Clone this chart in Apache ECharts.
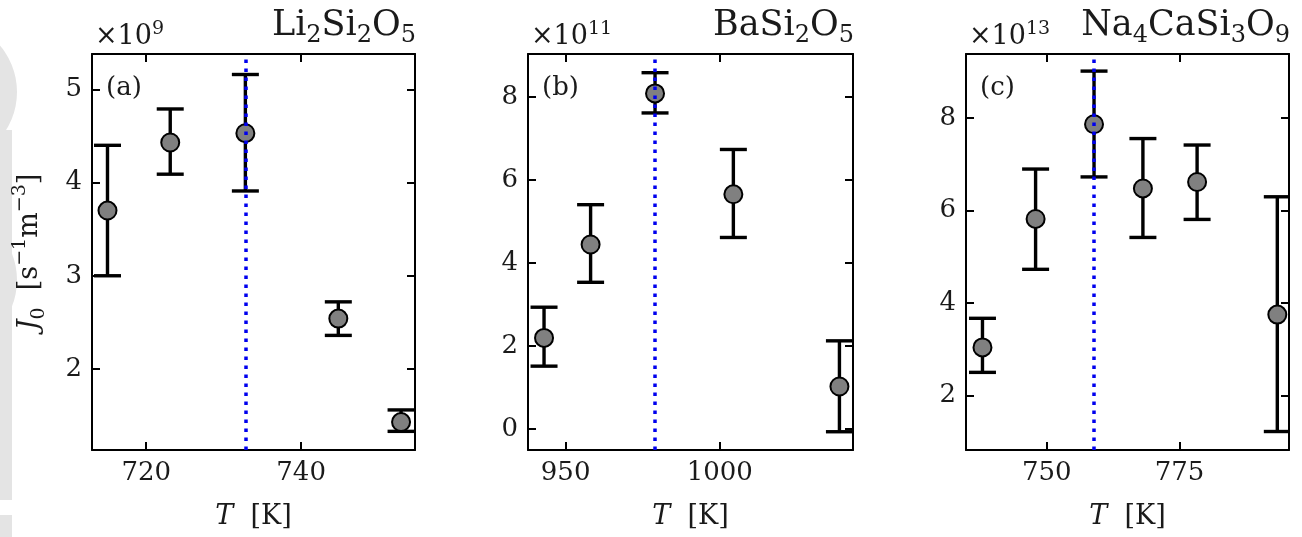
<!DOCTYPE html>
<html><head><meta charset="utf-8">
<script src="https://cdn.jsdelivr.net/npm/echarts@6/dist/echarts.min.js"></script>
<style>html,body{margin:0;padding:0;background:#fff}#c{width:1302px;height:537px}</style>
</head><body><div id="c"></div>
<script>
// ---- data (J0 in units of the panel's offset factor) ----
const T_a  = [715.0, 723.1, 732.8, 744.8, 752.9];
const J_a  = [3.70, 4.43, 4.53, 2.54, 1.43];
const lo_a = [3.00, 4.09, 3.91, 2.36, 1.33];
const hi_a = [4.40, 4.79, 5.16, 2.72, 1.56];
const Tmark_a = 732.9;

const T_b  = [943.0, 958.1, 979.0, 1004.4, 1038.8];
const J_b  = [2.19, 4.44, 8.08, 5.65, 1.02];
const lo_b = [1.51, 3.53, 7.61, 4.61, -0.07];
const hi_b = [2.93, 5.40, 8.58, 6.73, 2.12];
const Tmark_b = 979.0;

const T_c  = [737.9, 747.9, 758.9, 768.1, 778.3, 793.4];
const J_c  = [3.04, 5.82, 7.87, 6.48, 6.62, 3.75];
const lo_c = [2.50, 4.73, 6.73, 5.42, 5.81, 1.22];
const hi_c = [3.67, 6.90, 9.02, 7.56, 7.42, 6.30];
const Tmark_c = 758.9;

const xTicks_a = [720, 740];
const xTicks_b = [950, 1000];
const xTicks_c = [750, 775];
const yTicks_a = [2, 3, 4, 5];
const yTicks_b = [0, 2, 4, 6, 8];
const yTicks_c = [2, 4, 6, 8];

const xRange_a = [713.0, 754.7];
const xRange_b = [937.8, 1043.2];
const xRange_c = [734.8, 795.6];
const yRange_a = [1.13, 5.38];
const yRange_b = [-0.51, 9.03];
const yRange_c = [0.82, 9.39];

const compounds = ['{m|Li}{s|2}{m|Si}{s|2}{m|O}{s|5}',
                   '{m|BaSi}{s|2}{m|O}{s|5}',
                   '{m|Na}{s|4}{m|CaSi}{s|3}{m|O}{s|9}'];
const exponents = ['9', '11', '13'];
const panelTags = ['(a)', '(b)', '(c)'];

// ---- layout ----
const FONT = 'DejaVu Serif';
const INK = '#1a1a1a';
const grids = [
  {left: 92, top: 54, width: 323, height: 396},
  {left: 528, top: 54, width: 325, height: 396},
  {left: 966, top: 54, width: 323, height: 396}
];

const panels = [
  {T: T_a, J: J_a, lo: lo_a, hi: hi_a, mark: Tmark_a, xt: xTicks_a, yt: yTicks_a, xr: xRange_a, yr: yRange_a},
  {T: T_b, J: J_b, lo: lo_b, hi: hi_b, mark: Tmark_b, xt: xTicks_b, yt: yTicks_b, xr: xRange_b, yr: yRange_b},
  {T: T_c, J: J_c, lo: lo_c, hi: hi_c, mark: Tmark_c, xt: xTicks_c, yt: yTicks_c, xr: xRange_c, yr: yRange_c}
];

const axisLine = {show: true, onZero: false, lineStyle: {color: '#000', width: 2}};
function tickCfg(vals) {
  return {show: true, inside: true, length: 8, customValues: vals, lineStyle: {color: '#000', width: 2}};
}
const labelStyle = {fontFamily: FONT, fontSize: 26, color: INK, formatter: v => String(v)};
const plain = {fontFamily: FONT, color: INK, fontWeight: 'normal'};

const xAxes = [], yAxes = [], series = [], titles = [];
panels.forEach((p, i) => {
  xAxes.push({
    type: 'value', gridIndex: i, position: 'bottom', min: p.xr[0], max: p.xr[1],
    axisLine, axisTick: tickCfg(p.xt), splitLine: {show: false},
    axisLabel: Object.assign({customValues: p.xt, margin: 10}, labelStyle),
    name: '{i|T}{n|  [K]}', nameLocation: 'middle', nameGap: 50,
    nameTextStyle: {rich: {
      i: Object.assign({fontSize: 27, fontStyle: 'italic', lineHeight: 34}, plain),
      n: Object.assign({fontSize: 27, lineHeight: 34}, plain)
    }}
  });
  xAxes.push({
    type: 'value', gridIndex: i, position: 'top', min: p.xr[0], max: p.xr[1],
    axisLine, axisTick: tickCfg(p.xt), axisLabel: {show: false}, splitLine: {show: false}
  });
  yAxes.push({
    type: 'value', gridIndex: i, position: 'left', min: p.yr[0], max: p.yr[1],
    axisLine, axisTick: tickCfg(p.yt), splitLine: {show: false},
    axisLabel: Object.assign({customValues: p.yt, margin: 10}, labelStyle)
  });
  yAxes.push({
    type: 'value', gridIndex: i, position: 'right', min: p.yr[0], max: p.yr[1],
    axisLine, axisTick: tickCfg(p.yt), axisLabel: {show: false}, splitLine: {show: false}
  });

  const errData = p.T.map((t, k) => [t, p.lo[k], p.hi[k]]);
  series.push({
    type: 'custom', xAxisIndex: 2 * i, yAxisIndex: 2 * i, clip: true, silent: true,
    data: errData,
    renderItem: function (params, api) {
      const x = api.value(0), lo = api.value(1), hi = api.value(2);
      const a = api.coord([x, lo]), b = api.coord([x, hi]);
      const hw = 13.5, st = {stroke: '#000', lineWidth: 3.4};
      return {type: 'group', children: [
        {type: 'line', shape: {x1: a[0], y1: a[1], x2: b[0], y2: b[1]}, style: st},
        {type: 'line', shape: {x1: a[0] - hw, y1: a[1], x2: a[0] + hw, y2: a[1]}, style: st},
        {type: 'line', shape: {x1: b[0] - hw, y1: b[1], x2: b[0] + hw, y2: b[1]}, style: st}
      ]};
    }
  });
  series.push({
    type: 'scatter', xAxisIndex: 2 * i, yAxisIndex: 2 * i, silent: true,
    symbol: 'circle', symbolSize: 18,
    itemStyle: {color: '#808080', borderColor: '#000', borderWidth: 2, opacity: 1},
    data: p.T.map((t, k) => [t, p.J[k]]),
    markLine: {
      silent: true, symbol: ['none', 'none'], label: {show: false}, z: 10,
      lineStyle: {color: '#0000ee', width: 3.5, type: [3.5, 5.5], opacity: 1},
      emphasis: {disabled: true},
      data: [{xAxis: p.mark}]
    }
  });

  const g = grids[i];
  titles.push({
    text: compounds[i], right: 1302 - (g.left + g.width) - 1, top: 4, padding: 0,
    textStyle: Object.assign({fontSize: 35, rich: {
      m: Object.assign({fontSize: 35, lineHeight: 44}, plain),
      s: Object.assign({fontSize: 24, lineHeight: 28, verticalAlign: 'bottom'}, plain)
    }}, plain)
  });
  titles.push({
    text: '{m|×10}{p|' + exponents[i] + '}', left: g.left + 3, top: 20, padding: 0,
    textStyle: Object.assign({fontSize: 27, rich: {
      m: Object.assign({fontSize: 27, lineHeight: 34}, plain),
      p: Object.assign({fontSize: 19, lineHeight: 22, verticalAlign: 'top'}, plain)
    }}, plain)
  });
  titles.push({
    text: panelTags[i], left: g.left + 14, top: 72, padding: 0,
    textStyle: Object.assign({fontSize: 26, lineHeight: 32}, plain)
  });
});

const chart = echarts.init(document.getElementById('c'), null, {renderer: 'canvas'});
chart.setOption({
  animation: false,
  backgroundColor: '#fff',
  grid: grids,
  xAxis: xAxes,
  yAxis: yAxes,
  title: titles,
  series: series,
  graphic: [
    {type: 'circle', shape: {cx: -55, cy: 92, r: 72}, style: {fill: '#e4e4e4'}, z: -10, silent: true},
    {type: 'circle', shape: {cx: -55, cy: 280, r: 72}, style: {fill: '#e4e4e4'}, z: -10, silent: true},
    {type: 'circle', shape: {cx: -55, cy: 442, r: 66}, style: {fill: '#e4e4e4'}, z: -10, silent: true},
    {type: 'rect', shape: {x: 0, y: 130, width: 12, height: 370}, style: {fill: '#e4e4e4'}, z: -10, silent: true},
    {type: 'rect', shape: {x: 0, y: 515, width: 12, height: 22}, style: {fill: '#e4e4e4'}, z: -10, silent: true},
    {
      type: 'text', x: 30, y: 252, rotation: Math.PI / 2, silent: true,
      style: {
        text: '{j|J}{s|0}{n|  [s}{p|−1}{n|m}{p|−3}{n|]}',
        align: 'center', verticalAlign: 'middle',
        rich: {
          j: {fontFamily: FONT, fontSize: 27, fontStyle: 'italic', fill: INK, lineHeight: 38},
          n: {fontFamily: FONT, fontSize: 27, fill: INK, lineHeight: 38},
          s: {fontFamily: FONT, fontSize: 19, fill: INK, lineHeight: 24, verticalAlign: 'bottom'},
          p: {fontFamily: FONT, fontSize: 19, fill: INK, lineHeight: 22, verticalAlign: 'top'}
        }
      }
    }
  ]
});
</script>
</body></html>
